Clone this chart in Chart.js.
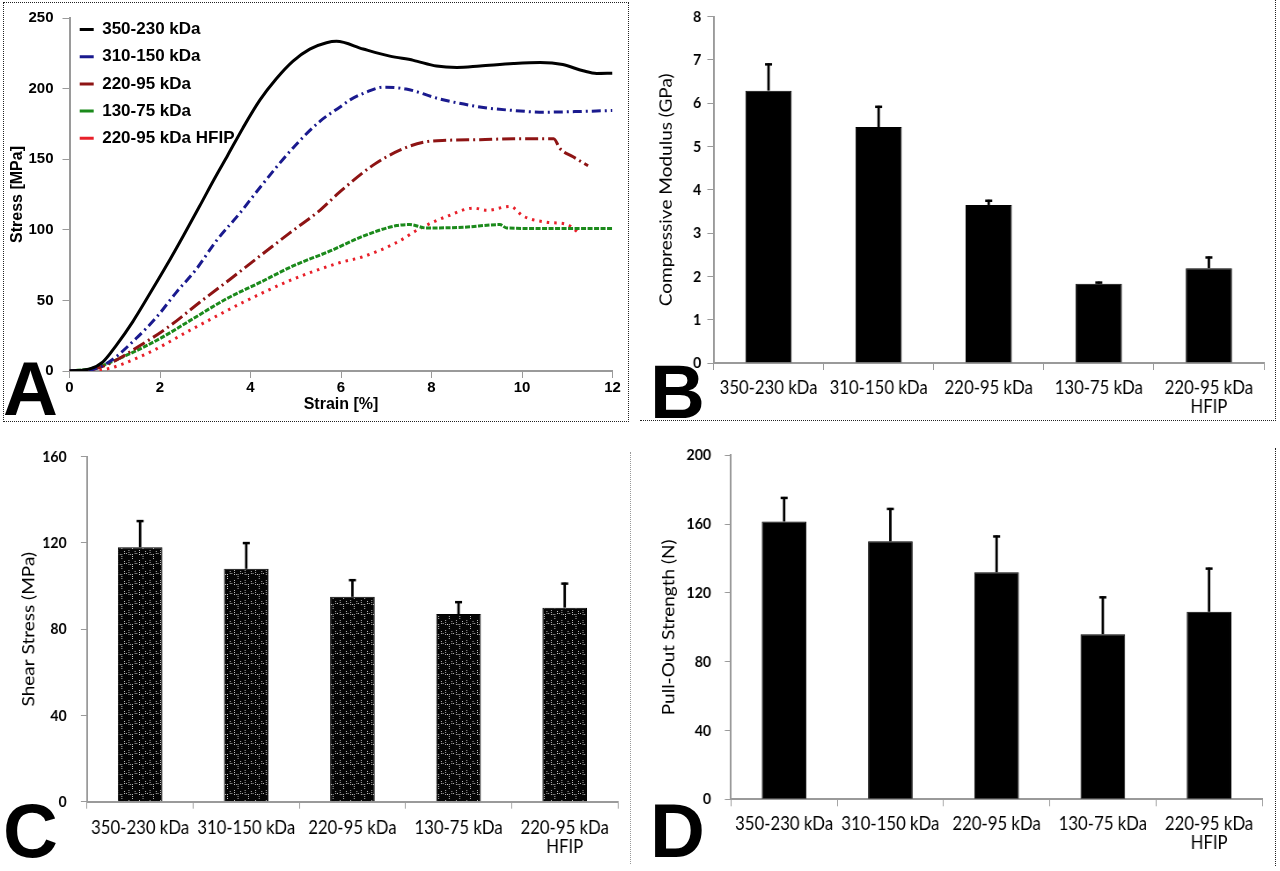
<!DOCTYPE html>
<html>
<head>
<meta charset="utf-8">
<script src="https://cdn.jsdelivr.net/npm/chart.js@4.4.1/dist/chart.umd.min.js"></script>
<style>
  html, body { margin: 0; padding: 0; background: #fff; }
  body { width: 1280px; height: 871px; position: relative; overflow: hidden; }
  .panel { position: absolute; }
  .squeeze { transform: scaleX(0.88); transform-origin: 0 0; }
  .letter { position: absolute; font-family: 'Liberation Sans', Arial, sans-serif; font-weight: bold; font-size: 76px; line-height: 1; color: #000; }
  .dot { position: absolute; }
</style>
</head>
<body>
<div class="dot" style="left:3px;top:2px;width:624px;height:418px;border:1px dotted #222;"></div>
<div class="dot" style="left:640px;top:420px;width:636px;height:0;border-top:1px dotted #222;"></div>
<div class="dot" style="left:1275px;top:0;width:0;height:421px;border-left:1px dotted #222;"></div>
<div class="dot" style="left:630px;top:452px;width:0;height:412px;border-left:1px dotted #999;"></div>
<div class="dot" style="left:1275px;top:448px;width:0;height:418px;border-left:1px dotted #222;"></div>

<div class="panel" style="left:0;top:0;width:640px;height:430px;"><canvas id="cA"></canvas></div>
<div class="panel squeeze" style="left:640px;top:0;width:727px;height:430px;"><canvas id="cB"></canvas></div>
<div class="panel squeeze" style="left:0;top:430px;width:727px;height:441px;"><canvas id="cC"></canvas></div>
<div class="panel squeeze" style="left:640px;top:430px;width:727px;height:441px;"><canvas id="cD"></canvas></div>

<div class="letter" style="left:3px;top:351px;">A</div>
<div class="letter" style="left:650px;top:354px;">B</div>
<div class="letter" style="left:3px;top:793px;">C</div>
<div class="letter" style="left:650px;top:793px;">D</div>

<script>
// ---------- Panel A data: strain (%) vs stress (MPa) ----------
const seriesNames = ['350-230 kDa', '310-150 kDa', '220-95 kDa', '130-75 kDa', '220-95 kDa HFIP'];

const strain350 = [0, 0.45, 0.74, 1.03, 1.4, 1.78, 2.15, 2.52, 2.88, 3.2, 3.5, 3.83, 4.21, 4.57, 4.94, 5.31, 5.68, 5.9, 6.49, 7.08, 7.6, 8.11, 8.56, 9.07, 9.81, 10.4, 10.9, 11.35, 11.65, 12];
const stress350 = [0, 1.5, 6.5, 18, 35, 55, 75, 96, 117, 136, 153, 172, 192, 207, 219.5, 228, 232.5, 233.5, 228, 223, 220, 216, 215, 216, 217.7, 218.4, 217, 212.6, 210.7, 210.9];

const strain310 = [0, 0.5, 0.88, 1.47, 1.92, 2.36, 2.8, 3.24, 3.77, 4.21, 4.94, 5.54, 5.98, 6.2, 6.6, 6.93, 7.44, 8.18, 9.07, 9.81, 10.5, 11.28, 12];
const stress310 = [0, 1, 6.5, 23, 38, 55.7, 72, 92, 112, 130, 158, 177, 187, 192, 198, 201, 199.7, 192.7, 187, 184.5, 183.3, 183.8, 184.5];

const strain220 = [0, 0.4, 0.81, 1.56, 2.22, 2.88, 3.55, 4.21, 4.87, 5.54, 5.98, 6.71, 7.3, 7.82, 8.34, 9.07, 9.81, 10.7, 10.84, 11.13, 11.46];
const stress220 = [0, 0.5, 4.2, 18, 32, 48.7, 65, 81.5, 97.8, 114, 127, 145.8, 156.4, 162, 163.4, 163.8, 164.5, 164.5, 157.5, 151.7, 145.4];

const strain130 = [0, 0.52, 1.25, 2.0, 2.73, 3.46, 4.21, 4.94, 5.76, 6.49, 7.23, 7.52, 7.88, 8.7, 9.51, 9.66, 10.55, 12];
const stress130 = [0, 1.9, 11, 23, 37, 51, 62.7, 74.4, 85, 95.5, 103, 103.7, 101.3, 101.8, 103.7, 101.3, 100.9, 100.9];

const strainHFIP = [0, 0.67, 1.62, 2.73, 3.84, 4.94, 5.98, 6.49, 7.23, 7.75, 8.34, 8.93, 9.22, 9.74, 10.03, 10.55, 11.0, 11.24];
const stressHFIP = [0, 0.7, 11, 30, 48.7, 65, 76.8, 81, 91, 101, 109.5, 115.4, 113.8, 116.6, 109.6, 105.4, 103.7, 98.3];

const strainTicks = [0, 2, 4, 6, 8, 10, 12];
const stressTicks = [0, 50, 100, 150, 200, 250];

// ---------- Bar panels ----------
const categories = ['350-230 kDa', '310-150 kDa', '220-95 kDa', '130-75 kDa', ['220-95 kDa', 'HFIP']];

const modulusMean = [6.29, 5.45, 3.65, 1.83, 2.19];
const modulusErr  = [0.63, 0.49, 0.12, 0.05, 0.27];
const modulusTicks = [0, 1, 2, 3, 4, 5, 6, 7, 8];

const shearMean = [118, 108, 95, 87, 90];
const shearErr  = [12.6, 12.4, 8.2, 6, 11.6];
const shearTicks = [0, 40, 80, 120, 160];

const pulloutMean = [161.5, 150, 132, 96, 109];
const pulloutErr  = [14.3, 19.4, 21.4, 22, 25.7];
const pulloutTicks = [0, 40, 80, 120, 160, 200];

// ---------- helpers ----------
const AXIS_GRAY = '#9a9a9a';
const fontA = "'Liberation Sans', Arial, sans-serif";
const fontB = "Lato, 'Open Sans', sans-serif";

function pairs(xs, ys) { return xs.map((x, i) => ({ x: x, y: ys[i] })); }

const errorBarPlugin = {
  id: 'errorBars',
  afterDatasetsDraw(chart) {
    const ctx = chart.ctx;
    const yScale = chart.scales.y;
    chart.data.datasets.forEach((ds, i) => {
      if (!ds.errors) return;
      const meta = chart.getDatasetMeta(i);
      meta.data.forEach((bar, j) => {
        const top = yScale.getPixelForValue(ds.data[j] + ds.errors[j]);
        ctx.save();
        ctx.strokeStyle = '#000';
        ctx.lineWidth = 2.8;
        ctx.beginPath();
        ctx.moveTo(bar.x, bar.y);
        ctx.lineTo(bar.x, top);
        ctx.stroke();
        ctx.lineWidth = 2.5;
        ctx.beginPath();
        ctx.moveTo(bar.x - 4, top + 1);
        ctx.lineTo(bar.x + 4, top + 1);
        ctx.stroke();
        ctx.restore();
      });
    });
  }
};

function makeZigzagPattern() {
  const c = document.createElement('canvas');
  c.width = 12; c.height = 10;
  const g = c.getContext('2d');
  g.fillStyle = '#050505';
  g.fillRect(0, 0, 12, 10);
  g.fillStyle = '#c8c8c8';
  const pts = [[2,0],[2,2],[2,4],[4,4],[6,4],[6,6],[6,8],[9,1],[9,3],[11,3]];
  pts.forEach(p => g.fillRect(p[0], p[1], 1, 1));
  return g.createPattern(c, 'repeat');
}

function yAxisCommon(min, max, ticks, title, opts) {
  return {
    min: min, max: max,
    afterBuildTicks: (s) => { s.ticks = ticks.map(v => ({ value: v })); },
    afterFit: (s) => { s.width = opts.width; },
    ticks: { color: '#000', padding: opts.tickPad, font: opts.tickFont },
    grid: { drawOnChartArea: false, drawTicks: true, tickLength: opts.tickLen, tickColor: AXIS_GRAY, color: AXIS_GRAY },
    border: { color: AXIS_GRAY, width: 2 },
    title: { display: true, text: title, color: '#000', font: opts.titleFont, padding: { top: opts.titlePad, bottom: 0 } }
  };
}

Chart.defaults.animation = false;

// ---------- Panel A ----------
const lineStyles = [
  { color: '#000000', dash: [] },
  { color: '#1a1a8e', dash: [9, 4, 2, 4] },
  { color: '#8e1414', dash: [13, 4, 2, 4] },
  { color: '#1b8a1b', dash: [5, 1.5] },
  { color: '#e8202a', dash: [2.5, 5] }
];
const seriesData = [
  pairs(strain350, stress350),
  pairs(strain310, stress310),
  pairs(strain220, stress220),
  pairs(strain130, stress130),
  pairs(strainHFIP, stressHFIP)
];

new Chart(document.getElementById('cA'), {
  type: 'line',
  data: {
    datasets: seriesNames.map((name, i) => ({
      label: name,
      data: seriesData[i],
      borderColor: lineStyles[i].color,
      backgroundColor: lineStyles[i].color,
      borderDash: lineStyles[i].dash,
      borderWidth: 3,
      pointRadius: 0,
      cubicInterpolationMode: 'monotone',
      fill: false
    }))
  },
  options: {
    responsive: true, maintainAspectRatio: false,
    layout: { padding: { left: 0, top: 15, right: 27.5, bottom: 0 } },
    plugins: {
      tooltip: { enabled: false },
      legend: {
        position: 'chartArea', align: 'start',
        title: { display: true, text: ' ', padding: 0, font: { size: 9 } },
        labels: {
          usePointStyle: true, pointStyle: 'line', pointStyleWidth: 14,
          color: '#000', padding: 10.2,
          font: { family: fontA, size: 17, weight: 'bold' }
        }
      }
    },
    scales: {
      x: {
        type: 'linear', min: 0, max: 12,
        afterBuildTicks: (s) => { s.ticks = strainTicks.map(v => ({ value: v })); },
        afterFit: (s) => { s.height = 59; },
        ticks: { color: '#000', padding: 1, maxRotation: 0, font: { family: fontA, size: 15, weight: 'bold' } },
        grid: { drawOnChartArea: false, tickLength: 7, tickColor: AXIS_GRAY, color: AXIS_GRAY },
        border: { color: AXIS_GRAY, width: 2 },
        title: { display: true, text: 'Strain [%]', color: '#000', font: { family: fontA, size: 16, weight: 'bold' }, padding: { top: 0, bottom: 16 } }
      },
      y: yAxisCommon(0, 250, stressTicks, 'Stress [MPa]', {
        width: 69.5, tickPad: 9, tickLen: 7,
        tickFont: { family: fontA, size: 15, weight: 'bold' },
        titleFont: { family: fontA, size: 16, weight: 'bold' }, titlePad: 8
      })
    }
  }
});

// ---------- Bar chart factory (canvases are drawn wide and squeezed by CSS) ----------
function barChart(id, means, errs, ticks, maxV, title, fill, lay) {
  return new Chart(document.getElementById(id), {
    type: 'bar',
    data: {
      labels: categories,
      datasets: [{
        data: means, errors: errs,
        backgroundColor: fill, borderColor: '#000', borderWidth: 1,
        barPercentage: 0.42, categoryPercentage: 1
      }]
    },
    options: {
      responsive: true, maintainAspectRatio: false,
      layout: { padding: { left: 0, top: lay.top, right: lay.right, bottom: 0 } },
      plugins: { legend: { display: false }, tooltip: { enabled: false } },
      scales: {
        x: {
          afterFit: (s) => { s.height = lay.xHeight; },
          ticks: { color: '#000', padding: lay.xPad, maxRotation: 0, minRotation: 0, autoSkip: false,
                   font: { family: fontB, size: 19, lineHeight: 1.0 } },
          grid: { drawOnChartArea: false, offset: true, tickLength: 7, tickColor: AXIS_GRAY, color: AXIS_GRAY },
          border: { color: AXIS_GRAY, width: 2 }
        },
        y: yAxisCommon(0, maxV, ticks, title, {
          width: lay.yWidth, tickPad: lay.yPad, tickLen: 7,
          tickFont: { family: fontB, size: 16, weight: 'bold' },
          titleFont: { family: fontB, size: lay.titleSize }, titlePad: lay.titlePad
        })
      }
    },
    plugins: [errorBarPlugin]
  });
}

barChart('cB', modulusMean, modulusErr, modulusTicks, 8, 'Compressive Modulus (GPa)', '#000',
  { top: 13, right: 18, xHeight: 67, xPad: 8, yWidth: 83.5, yPad: 7, titleSize: 19, titlePad: 18 });
barChart('cC', shearMean, shearErr, shearTicks, 160, 'Shear Stress (MPa)', makeZigzagPattern(),
  { top: 26.7, right: 25, xHeight: 69.3, xPad: 9.8, yWidth: 98.9, yPad: 16, titleSize: 19, titlePad: 21.6 });
barChart('cD', pulloutMean, pulloutErr, pulloutTicks, 200, 'Pull-Out Strength (N)', '#000',
  { top: 24.3, right: 20, xHeight: 71.7, xPad: 7.7, yWidth: 103.4, yPad: 15.7, titleSize: 19, titlePad: 21 });
</script>
</body>
</html>
